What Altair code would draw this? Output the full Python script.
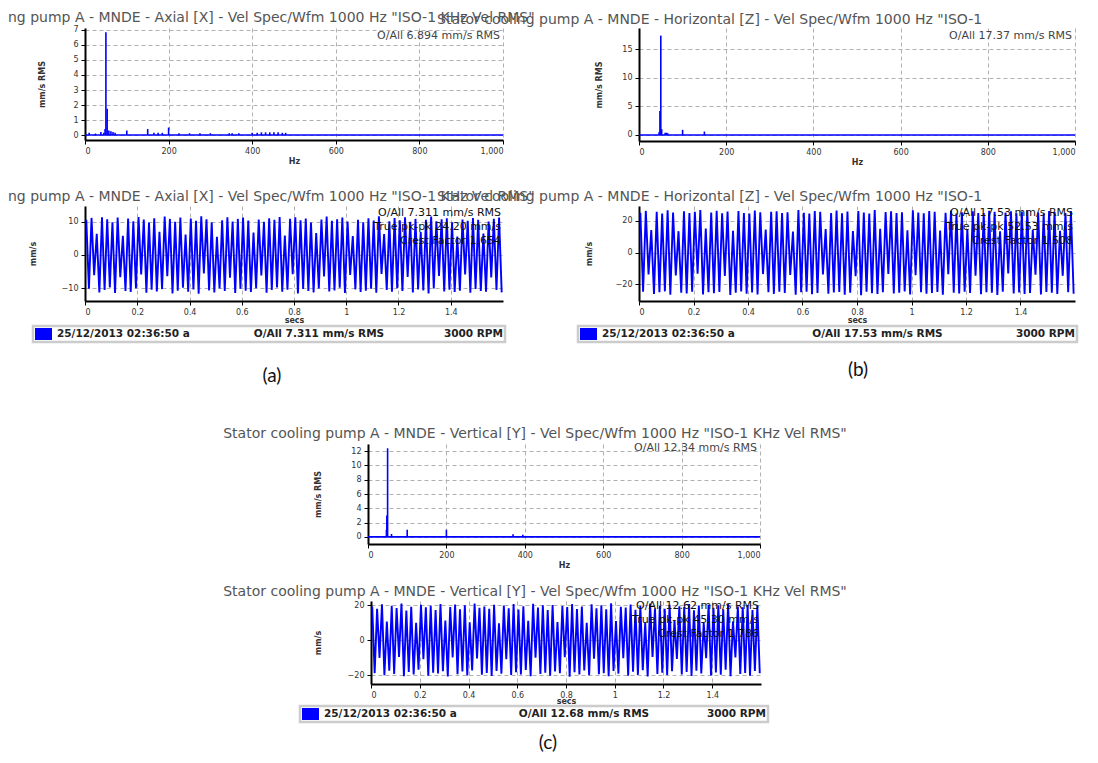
import altair as alt
import pandas as pd

# ------------------------------------------------------------------ data
spec_a_freq = [10, 25, 38, 45, 48, 50, 53, 57, 62, 67, 72, 100, 150, 165, 175, 185, 200, 225,
               250, 275, 300, 345, 352, 368, 400, 412, 422, 432, 442, 452, 462, 472, 480]
spec_a_amp = [0.15, 0.1, 0.2, 0.15, 0.4, 6.85, 1.75, 0.3, 0.25, 0.2, 0.15, 0.3, 0.4, 0.15, 0.15, 0.15,
              0.5, 0.12, 0.12, 0.12, 0.12, 0.12, 0.12, 0.12, 0.15, 0.15, 0.18, 0.18, 0.18, 0.18, 0.18,
              0.15, 0.15]
spec_b_freq = [46, 48, 50, 52, 60, 63, 66, 100, 150]
spec_b_amp = [0.5, 4.2, 17.37, 1.0, 0.4, 0.4, 0.3, 0.9, 0.6]
spec_c_freq = [47, 48, 50, 60, 100, 200, 370, 395]
spec_c_amp = [1.0, 3.0, 12.4, 0.4, 1.0, 1.0, 0.35, 0.3]

spec_x_ticks = [0, 200, 400, 600, 800, 1000]
spec_a_yticks = [0, 1, 2, 3, 4, 5, 6, 7]
spec_b_yticks = [0, 5, 10, 15]
spec_c_yticks = [0, 2, 4, 6, 8, 10, 12]
wave_x_ticks = [0, 0.2, 0.4, 0.6, 0.8, 1.0, 1.2, 1.4]
wave_a_yticks = [-10, 0, 10]
wave_bc_yticks = [-20, 0, 20]

wave_a_peaks = [10.6, 11.2, 6.4, 11.4, 10.8, 9.9, 11.3, 5.8, 11.0, 10.2,
                11.5, 10.7, 9.8, 11.1, 7.0, 11.6, 10.9, 10.0, 11.3, 6.2,
                11.0, 10.3, 11.7, 10.8, 9.9, 5.5, 10.5, 11.4, 10.1, 10.9,
                11.3, 10.4, 6.8, 10.7, 10.0, 11.1, 10.6, 11.5, 5.9, 10.9,
                11.4, 10.5, 11.0, 9.8, 6.6, 10.7, 11.6, 10.3, 10.8, 11.3,
                10.1, 5.7, 10.6, 9.9, 11.1, 10.4, 11.7, 6.3, 10.2, 11.2,
                10.5, 11.4, 10.0, 10.9, 6.9, 10.6, 11.6, 10.2, 10.8, 11.1,
                9.9, 5.6, 10.7, 10.3, 11.2, 10.6, 6.5, 10.1, 10.9, 11.3]
wave_a_troughs = [-10.2, -6.1, -11.3, -10.6, -9.8, -11.5, -6.7, -10.9, -11.2, -10.0,
                  -5.9, -11.4, -10.5, -11.0, -10.3, -6.4, -11.6, -10.8, -9.9, -11.1,
                  -10.4, -11.7, -5.6, -10.7, -11.3, -10.1, -10.9, -6.9, -11.5, -10.2,
                  -10.8, -11.2, -10.0, -6.2, -11.4, -10.6, -9.8, -11.1, -10.5, -5.8,
                  -11.6, -10.3, -10.9, -11.3, -10.1, -6.5, -11.0, -10.7, -9.9, -11.5,
                  -6.0, -10.4, -11.2, -10.8, -10.2, -11.4, -5.7, -10.6, -11.1, -10.0,
                  -10.9, -6.6, -11.3, -10.4, -10.7, -11.6, -10.1, -6.3, -11.0, -10.5,
                  -11.2, -10.8, -5.9, -11.4, -10.3, -10.9, -11.1, -6.8, -10.6, -11.3]
wave_b_peaks = [25.1, 26.3, 14.2, 25.8, 24.6, 26.7, 25.3, 13.5, 26.0, 24.9,
                25.7, 26.9, 15.1, 25.2, 26.4, 24.8, 25.9, 13.8, 26.2, 25.0,
                24.7, 26.6, 25.4, 14.6, 25.8, 26.1, 24.9, 25.5, 13.2, 26.8,
                25.1, 24.6, 26.3, 25.7, 14.9, 25.0, 26.5, 24.8, 25.9, 13.6,
                26.2, 25.3, 24.7, 26.8, 15.0, 25.6, 26.0, 24.9, 25.4, 14.1,
                26.7, 25.2, 24.8, 26.3, 25.8, 13.9, 25.1, 26.6, 24.7, 25.5,
                14.7, 26.1, 25.0, 24.9, 26.4, 25.7, 13.4, 25.3, 26.0, 24.8,
                25.9, 26.5, 14.4, 25.2, 24.6, 26.2, 25.6, 13.7, 25.0, 26.3]
wave_b_troughs = [-24.8, -13.9, -26.2, -25.1, -24.5, -26.6, -14.5, -25.3, -25.9, -24.7,
                  -13.3, -26.4, -25.0, -25.7, -24.9, -14.8, -26.8, -25.4, -24.6, -26.0,
                  -25.2, -26.5, -13.6, -25.0, -26.1, -24.8, -25.6, -14.2, -26.7, -25.1,
                  -24.7, -26.3, -25.5, -13.8, -26.0, -25.2, -24.9, -26.6, -25.3, -14.9,
                  -26.9, -24.8, -25.7, -26.2, -25.0, -13.5, -25.9, -25.4, -24.6, -26.4,
                  -14.3, -25.1, -26.0, -25.6, -24.9, -26.7, -13.7, -25.3, -25.8, -24.7,
                  -25.5, -14.6, -26.3, -25.0, -25.4, -26.8, -24.8, -13.2, -25.9, -25.2,
                  -26.1, -25.6, -14.0, -26.5, -24.9, -25.3, -26.2, -14.7, -25.1, -26.0]
wave_c_peaks = [19.2, 17.8, 20.4, 10.5, 19.6, 18.3, 20.8, 16.9, 19.0, 9.8,
                20.1, 18.7, 19.5, 17.2, 20.6, 11.2, 18.9, 20.3, 17.6, 19.8,
                10.1, 20.9, 18.4, 19.1, 17.9, 20.2, 9.5, 19.7, 18.1, 20.5,
                17.4, 19.3, 11.0, 20.7, 18.6, 19.9, 17.1, 20.0, 10.3, 19.4,
                18.8, 20.6, 17.7, 19.2, 9.9, 20.4, 18.2, 19.8, 17.5, 21.0,
                10.8, 19.0, 18.5, 20.3, 17.3, 19.6, 10.0, 20.8, 18.0, 19.4,
                17.8, 20.1, 11.1, 19.3, 18.9, 20.5, 17.0, 19.7, 9.7, 20.2,
                18.4, 19.9, 17.6, 20.6, 10.6, 19.1, 18.7, 20.0, 17.2, 19.5]
wave_c_troughs = [-18.9, -10.2, -20.1, -17.5, -19.4, -9.6, -20.6, -18.2, -19.7, -17.0,
                  -10.9, -20.3, -18.6, -19.1, -17.8, -20.8, -9.9, -19.5, -18.0, -20.2,
                  -17.3, -10.5, -19.8, -18.8, -20.5, -17.6, -19.2, -11.0, -20.0, -18.4,
                  -19.6, -17.1, -20.7, -10.1, -19.3, -18.7, -20.4, -17.9, -19.0, -9.8,
                  -20.9, -18.3, -19.7, -17.4, -20.1, -10.7, -19.5, -18.9, -20.6, -17.7,
                  -19.2, -10.3, -20.3, -18.1, -19.9, -17.2, -20.8, -9.7, -19.4, -18.6,
                  -20.0, -17.8, -10.8, -19.6, -18.2, -20.5, -17.5, -19.1, -10.4, -20.2,
                  -18.5, -19.8, -17.0, -20.7, -9.9, -19.3, -18.8, -20.4, -17.6, -19.0]

title_a = 'ng pump A - MNDE - Axial [X] - Vel Spec/Wfm 1000 Hz "ISO-1 KHz Vel RMS"'
title_b = 'Stator cooling pump A - MNDE - Horizontal [Z] - Vel Spec/Wfm 1000 Hz "ISO-1'
title_c = 'Stator cooling pump A - MNDE - Vertical [Y] - Vel Spec/Wfm 1000 Hz "ISO-1 KHz Vel RMS"'
spec_oall = ["O/All 6.894 mm/s RMS", "O/All 17.37 mm/s RMS", "O/All 12.34 mm/s RMS"]
wave_stats = ["O/All 7.311 mm/s RMS\nTrue pk-pk 24.20 mm/s\nCrest Factor 1.654",
              "O/All 17.53 mm/s RMS\nTrue pk-pk 52.53 mm/s\nCrest Factor 1.508",
              "O/All 12.62 mm/s RMS\nTrue pk-pk 45.30 mm/s\nCrest Factor 1.786"]
status_date = ["25/12/2013 02:36:50 a", "25/12/2013 02:36:50 a", "25/12/2013 02:36:50 a"]
status_oall = ["O/All 7.311 mm/s RMS", "O/All 17.53 mm/s RMS", "O/All 12.68 mm/s RMS"]
status_rpm = "3000 RPM"
panel_labels = ["(a)", "(b)", "(c)"]

# ------------------------------------------------------------------ style
FONT = "DejaVu Sans"
BLUE = "#0000ff"
TITLE_COLOR = "#555555"


def one(s):
    return pd.DataFrame({"s": [s]})


def make_title(text, anchor, dx, offset):
    return alt.TitleParams(text=text, anchor=anchor, frame="group", dx=dx, offset=offset,
                           font=FONT, fontSize=14, fontWeight="normal", color=TITLE_COLOR)


def spectrum(freq, amp, cell_w, left, pw, h, ydom, yticks, title, oall, ytitle_x, oall_y):
    right = left + pw
    df = pd.DataFrame({"f": freq, "a": amp})
    x = alt.X("f:Q", scale=alt.Scale(domain=[0, 1000], nice=False, range=[left, right]),
              axis=alt.Axis(values=spec_x_ticks, format=",.0f", title="Hz",
                            titleX=(left + right) / 2, titleY=21, titleBaseline="middle",
                            grid=True))
    y = alt.Y("a:Q", scale=alt.Scale(domain=ydom, nice=False, zero=False),
              axis=alt.Axis(values=yticks, format="d", title="mm/s RMS", titleX=ytitle_x,
                            titleY=h / 2, titleBaseline="middle", titleAlign="center",
                            grid=True, labelOverlap=False, offset=-left))
    spikes = alt.Chart(df).mark_rule(color=BLUE, strokeWidth=1.6).encode(
        x=x, y=y, y2=alt.datum(0))
    floor = alt.Chart(pd.DataFrame({"f": [0, 1000], "a": [0, 0]})).mark_line(
        color=BLUE, strokeWidth=1.6).encode(x=x, y=y)
    txt = alt.Chart(one(oall)).mark_text(align="right", baseline="middle", font=FONT,
                                         fontSize=11, color="#444444").encode(
        x=alt.value(right - 3), y=alt.value(oall_y), text="s:N")
    return alt.layer(spikes, floor, txt).properties(width=cell_w, height=h, title=title)


def waveform(peaks, troughs, cell_w, left, pw, h, ydom, yticks, title, stats, stats_y,
             ytitle_x, xtitle_y, bar, date, oall, label, label_xy):
    right = left + pw
    t, v = [], []
    for i, (p, q) in enumerate(zip(peaks, troughs)):
        t += [i * 0.02 + 0.005, i * 0.02 + 0.015]
        v += [p, q]
    df = pd.DataFrame({"t": t, "v": v})
    x = alt.X("t:Q", scale=alt.Scale(domain=[0, 1.6], nice=False, range=[left, right]),
              axis=alt.Axis(values=wave_x_ticks, format="~g", title="secs",
                            titleX=(left + right) / 2, titleY=xtitle_y,
                            titleBaseline="middle", grid=True))
    y = alt.Y("v:Q", scale=alt.Scale(domain=ydom, nice=False, zero=False),
              axis=alt.Axis(values=yticks, format="d", title="mm/s", titleX=ytitle_x,
                            titleY=h / 2, titleBaseline="middle", titleAlign="center",
                            grid=True, labelOverlap=False, offset=-left))
    line = alt.Chart(df).mark_line(color=BLUE, strokeWidth=1.9).encode(x=x, y=y)
    st = alt.Chart(one(stats)).mark_text(align="right", baseline="top", font=FONT,
                                         fontSize=11, lineHeight=14, lineBreak="\n",
                                         color="#111111").encode(
        x=alt.value(right - 2), y=alt.value(stats_y), text="s:N")
    x0, x1, ytop = left + bar[0], left + bar[1], bar[2]
    frame = alt.Chart(one("f")).mark_rect(filled=False, stroke="#cccccc", strokeWidth=2.5).encode(
        x=alt.value(x0), x2=alt.value(x1), y=alt.value(h + ytop), y2=alt.value(h + ytop + 16))
    box = alt.Chart(one("b")).mark_rect(fill=BLUE).encode(
        x=alt.value(x0 + 2), x2=alt.value(x0 + 19), y=alt.value(h + ytop + 2),
        y2=alt.value(h + ytop + 14))
    sfont = dict(font=FONT, fontSize=10.5, fontWeight="bold", color="#222222", baseline="middle")
    t1 = alt.Chart(one(date)).mark_text(align="left", **sfont).encode(
        x=alt.value(x0 + 24), y=alt.value(h + ytop + 8), text="s:N")
    t2 = alt.Chart(one(oall)).mark_text(align="center", **sfont).encode(
        x=alt.value((x0 + x1) / 2 + 50), y=alt.value(h + ytop + 8), text="s:N")
    t3 = alt.Chart(one(status_rpm)).mark_text(align="right", **sfont).encode(
        x=alt.value(x1 - 2), y=alt.value(h + ytop + 8), text="s:N")
    lab = alt.Chart(one(label)).mark_text(align="center", baseline="middle", font="Lato",
                                          fontSize=19, color="#111111").encode(
        x=alt.value(label_xy[0]), y=alt.value(label_xy[1]), text="s:N")
    return alt.layer(line, st, frame, box, t1, t2, t3, lab).properties(
        width=cell_w, height=h, title=title)


def spacer(h):
    return alt.Chart(one("sp")).mark_text(text="").encode(
        x=alt.value(0), y=alt.value(0)).properties(width=1, height=h)


# ------------------------------------------------------------------ panels
WA, WB, WMID = 418, 436, 136

spec_a = spectrum(spec_a_freq, spec_a_amp, WA, 0, WA, 112, [-0.33, 7.13], spec_a_yticks,
                  make_title(title_a, "start", -77, 1), spec_oall[0], -43, 8)
wave_a = waveform(wave_a_peaks, wave_a_troughs, WA, 0, WA, 95, [-13.9, 14.8], wave_a_yticks,
                  make_title(title_a, "start", -77, 2), wave_stats[0], 1,
                  -52, 19, (-52, WA + 2, 25), status_date[0], status_oall[0], panel_labels[0],
                  (187, 170))
spec_b = spectrum(spec_b_freq, spec_b_amp, WB, 0, WB, 113, [-1.05, 18.7], spec_b_yticks,
                  make_title(title_b, "start", -202, 1), spec_oall[1], -40, 8)
wave_b = waveform(wave_b_peaks, wave_b_troughs, WB, 0, WB, 95, [-30.6, 29.4], wave_bc_yticks,
                  make_title(title_b, "start", -202, 2), wave_stats[1], 1,
                  -50, 19, (-61, WB + 2, 25), status_date[1], status_oall[1], panel_labels[1],
                  (219, 164))
spec_c = spectrum(spec_c_freq, spec_c_amp, WMID, -135, 392, 100, [-1.0, 13.0], spec_c_yticks,
                  make_title(title_c, "middle", -36, 1), spec_oall[2], -50, 4)
wave_c = waveform(wave_c_peaks, wave_c_troughs, WMID, -132, 390, 83, [-25.1, 22.3],
                  wave_bc_yticks, make_title(title_c, "middle", -36, 0), wave_stats[2], -1,
                  -53, 17, (-71, 397, 22), status_date[2], status_oall[2], panel_labels[2],
                  (45, 142))

items = [
    spec_a, spacer(121), spec_b,
    wave_a, spacer(181), wave_b,
    spacer(10), spec_c, spacer(10),
    spacer(10), wave_c, spacer(10),
]

chart = alt.concat(*items, columns=3, spacing={"row": 57, "column": 0},
                   align="each", bounds="flush").properties(
    padding={"left": 0, "top": 2, "right": 0, "bottom": 0},
    background="white",
).configure_view(stroke=None).configure_axis(
    labelFont=FONT, labelFontSize=8, labelColor="#333333", labelPadding=3,
    domainColor="black", domainWidth=2, tickColor="black", tickSize=4, tickWidth=1,
    gridColor="#b0b0b0", gridDash=[4, 3], gridWidth=1,
    titleFont=FONT, titleFontSize=8, titleFontWeight="bold", titleColor="#333333"
)

chart.save("out.html", embed_options={"renderer": "svg", "actions": False})
